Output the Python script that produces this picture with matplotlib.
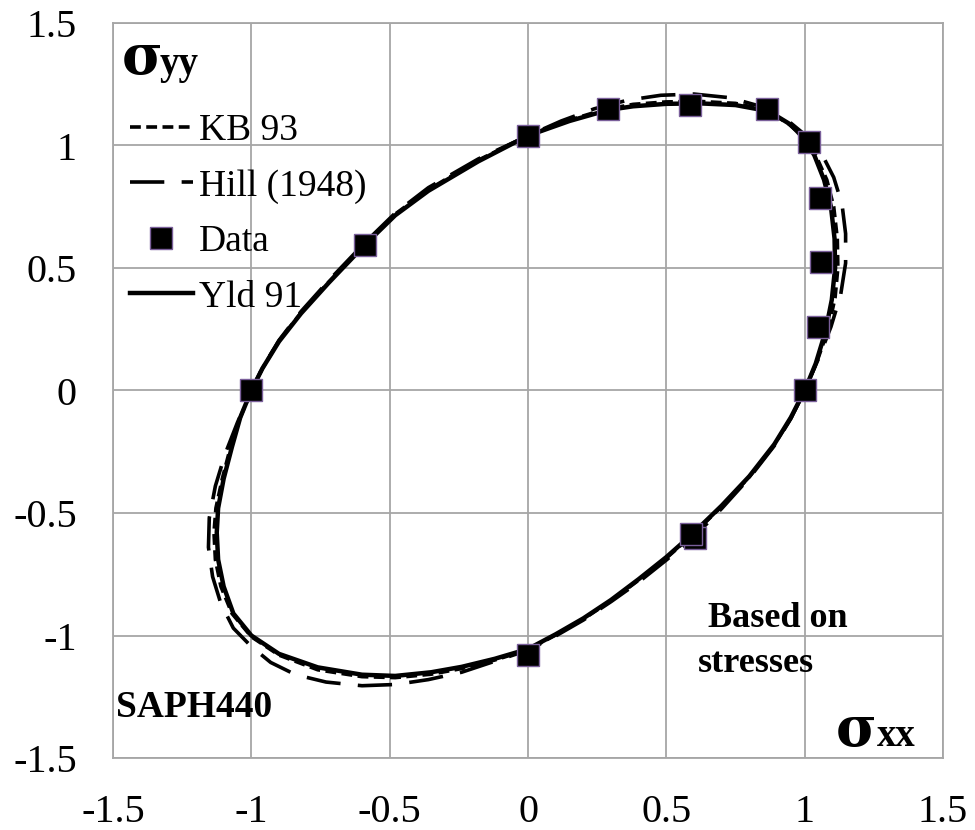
import matplotlib
matplotlib.use("Agg")
import matplotlib.pyplot as plt

# measured data points (normalised stresses)
data_x = [-1.0, -0.59, 0.0, 0.29, 0.585, 0.863, 1.016, 1.054, 1.058, 1.047, 1.0, 0.605, 0.59, 0.0]
data_y = [0.0, 0.594, 1.04, 1.148, 1.164, 1.148, 1.013, 0.786, 0.525, 0.26, 0.0, -0.60, -0.585, -1.08]

# Yld 91 locus (1, 0)
yld_x = [1.0, 1.04, 1.075, 1.098, 1.11, 1.108, 1.095, 1.07, 1.035, 1.0, 0.95, 0.87, 0.75, 0.62,
         0.5, 0.38, 0.29, 0.15, 0.0, -0.18, -0.36, -0.48, -0.59, -0.72, -0.82, -0.9, -0.96, -1.0,
         -1.04, -1.07, -1.1, -1.12, -1.125, -1.12, -1.1, -1.065, -1.0, -0.9, -0.76, -0.6, -0.48,
         -0.35, -0.24, -0.12, 0.0, 0.1, 0.2, 0.3, 0.4, 0.5, 0.59, 0.7, 0.8, 0.89, 0.95, 1.0]
yld_y = [0.0, 0.11, 0.24, 0.37, 0.5, 0.62, 0.75, 0.86, 0.96, 1.025, 1.085, 1.14, 1.165, 1.172,
         1.17, 1.16, 1.145, 1.1, 1.04, 0.935, 0.815, 0.715, 0.594, 0.44, 0.315, 0.2, 0.09, 0.0,
         -0.11, -0.23, -0.36, -0.48, -0.58, -0.69, -0.8, -0.91, -1.0, -1.075, -1.13, -1.16, -1.165,
         -1.15, -1.128, -1.095, -1.055, -0.995, -0.93, -0.855, -0.77, -0.68, -0.59, -0.47, -0.35,
         -0.22, -0.11, 0.0]

# KB 93 locus
kb_x = [1.0, 1.045, 1.085, 1.11, 1.12, 1.118, 1.105, 1.08, 1.04, 1.0, 0.94, 0.86, 0.75, 0.62,
        0.5, 0.38, 0.27, 0.14, 0.0, -0.18, -0.36, -0.48, -0.59, -0.72, -0.82, -0.9, -0.96, -1.0,
        -1.04, -1.075, -1.105, -1.128, -1.135, -1.13, -1.11, -1.07, -1.0, -0.9, -0.76, -0.6, -0.48,
        -0.35, -0.24, -0.12, 0.0, 0.1, 0.2, 0.3, 0.4, 0.5, 0.59, 0.7, 0.8, 0.89, 0.95, 1.0]
kb_y = [0.0, 0.12, 0.25, 0.38, 0.5, 0.62, 0.75, 0.86, 0.96, 1.03, 1.09, 1.145, 1.172, 1.18,
        1.178, 1.168, 1.145, 1.1, 1.04, 0.94, 0.82, 0.72, 0.597, 0.443, 0.318, 0.202, 0.09, 0.0,
        -0.11, -0.23, -0.36, -0.48, -0.58, -0.69, -0.8, -0.91, -1.005, -1.08, -1.14, -1.168, -1.172,
        -1.158, -1.135, -1.1, -1.058, -0.998, -0.933, -0.858, -0.774, -0.684, -0.594, -0.473,
        -0.352, -0.222, -0.112, 0.0]

# Hill (1948) locus
hill_x = [1.0, 1.05, 1.095, 1.13, 1.148, 1.148, 1.135, 1.105, 1.06, 1.0, 0.93, 0.84, 0.73, 0.6,
          0.48, 0.36, 0.24, 0.12, 0.0, -0.18, -0.36, -0.48, -0.59, -0.72, -0.82, -0.9, -0.96, -1.0,
          -1.05, -1.095, -1.13, -1.152, -1.155, -1.14, -1.11, -1.065, -1.0, -0.93, -0.84, -0.73,
          -0.6, -0.48, -0.36, -0.24, -0.12, 0.0, 0.1, 0.2, 0.3, 0.4, 0.5, 0.6, 0.7, 0.8, 0.89, 0.95, 1.0]
hill_y = [0.0, 0.13, 0.26, 0.39, 0.52, 0.64, 0.76, 0.87, 0.97, 1.045, 1.11, 1.16, 1.195, 1.21,
          1.205, 1.185, 1.15, 1.1, 1.04, 0.945, 0.828, 0.724, 0.603, 0.449, 0.323, 0.205, 0.092, 0.0,
          -0.13, -0.26, -0.39, -0.52, -0.64, -0.76, -0.87, -0.97, -1.045, -1.11, -1.16, -1.19,
          -1.205, -1.2, -1.18, -1.15, -1.105, -1.06, -1.002, -0.937, -0.862, -0.782, -0.692,
          -0.597, -0.482, -0.357, -0.226, -0.115, 0.0]

ticks = [-1.5, -1, -0.5, 0, 0.5, 1, 1.5]
tick_labels = ["-1.5", "-1", "-0.5", "0", "0.5", "1", "1.5"]

plt.rcParams["font.family"] = ["Liberation Serif", "DejaVu Serif"]

fig = plt.figure(figsize=(9.75, 8.3), dpi=100)
ax = fig.add_axes([113 / 975, 1 - 758 / 830, 830 / 975, 735 / 830])

grey = "#a6a6a6"
ax.plot(kb_x, kb_y, color="black", lw=2.6, dashes=(3.0, 1.5), label="KB 93", zorder=3)
ax.plot(hill_x, hill_y, color="black", lw=2.6, dashes=(9.5, 4.8), label="Hill (1948)", zorder=3)
ax.plot(data_x, data_y, ls="none", marker="s", ms=16, mfc="black", mec="#7a5f9a", mew=1,
        label="Data", zorder=5)
ax.plot(yld_x, yld_y, color="black", lw=3.2, label="Yld 91", zorder=4)

ax.set_xlim(-1.5, 1.5)
ax.set_ylim(-1.5, 1.5)
ax.set_xticks(ticks)
ax.set_xticklabels(tick_labels)
ax.set_yticks(ticks)
ax.set_yticklabels(tick_labels)
ax.tick_params(length=0, labelsize=29, pad=26)
ax.grid(True, color=grey, lw=1.3)
ax.set_axisbelow(True)
for s in ax.spines.values():
    s.set_color(grey)
    s.set_linewidth(1.3)

ax.legend(loc="upper left", bbox_to_anchor=(0.02, 0.877), frameon=False, fontsize=27,
          handlelength=1.7, handletextpad=0.15, labelspacing=0.56, borderpad=0, borderaxespad=0)

sig_font = dict(family="DejaVu Serif", fontsize=40, fontweight="bold", va="baseline")
ax.text(-1.468, 1.29, "σ", **sig_font)
ax.text(-1.33, 1.29, "yy", fontsize=28, fontweight="bold", va="baseline")
ax.text(1.113, -1.451, "σ", **sig_font)
ax.text(1.261, -1.451, "xx", fontsize=28, fontweight="bold", va="baseline")
ax.text(-1.49, -1.333, "SAPH440", fontsize=27, fontweight="bold", va="baseline")
ax.text(0.65, -0.965, "Based on", fontsize=26, fontweight="bold", va="baseline")
ax.text(0.614, -1.149, "stresses", fontsize=26, fontweight="bold", va="baseline")

fig.savefig("out.png", dpi=100)
